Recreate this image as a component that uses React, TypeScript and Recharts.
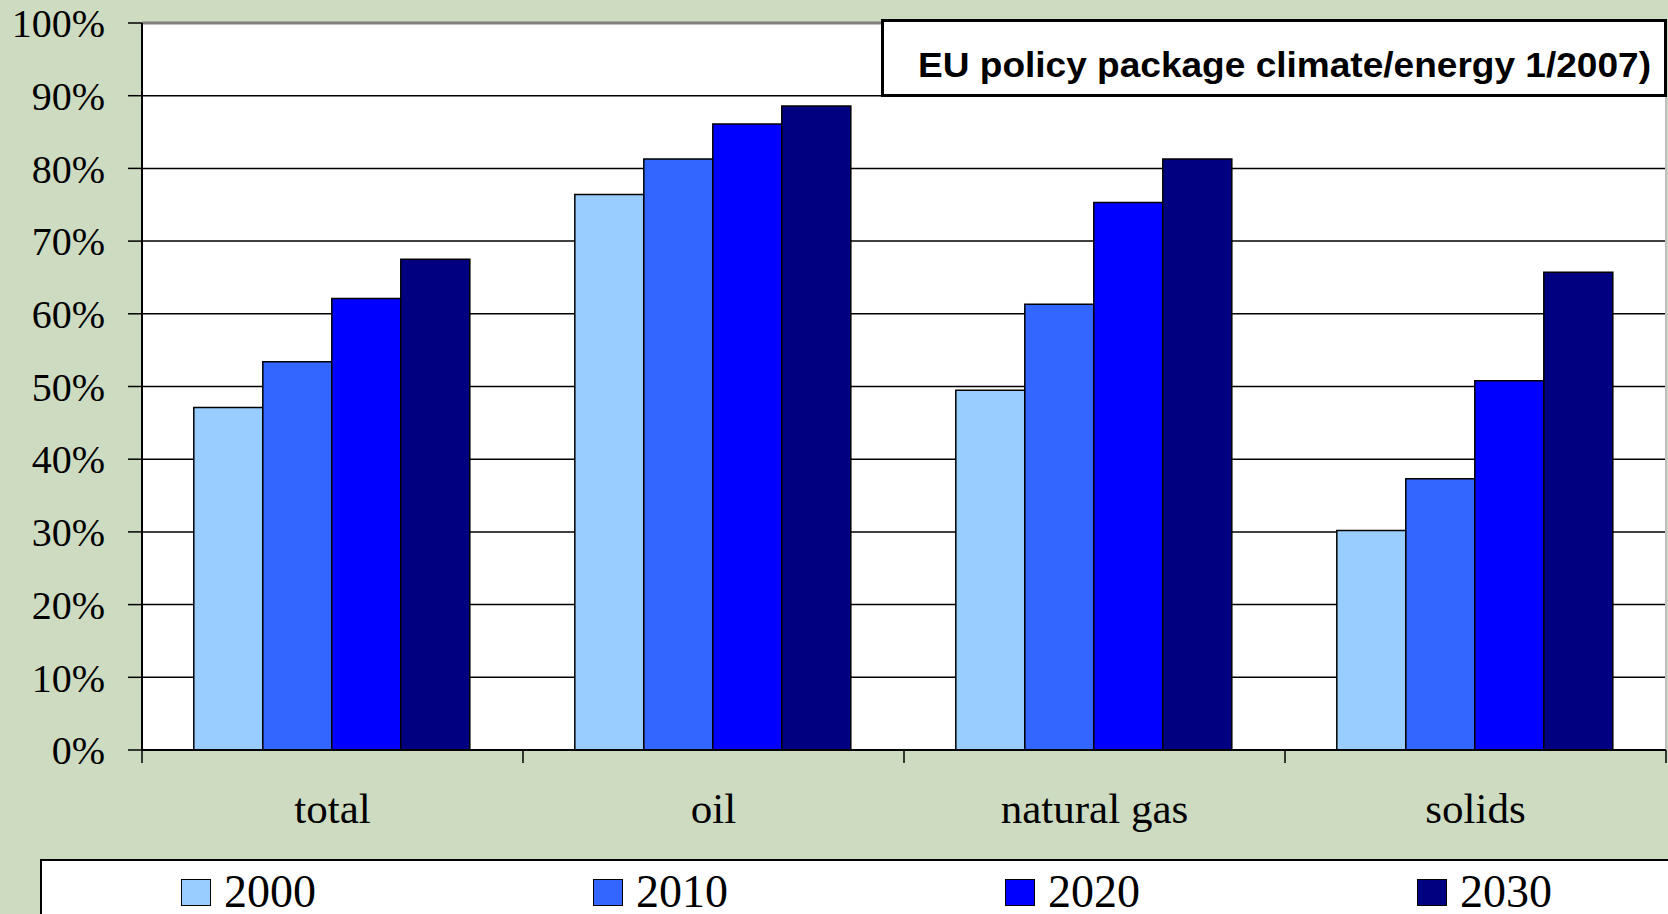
import React from 'react';
import { BarChart, Bar, XAxis, YAxis, CartesianGrid, Legend, ReferenceLine } from 'recharts';

const categories = ['total', 'oil', 'natural gas', 'solids'];
const years = ['2000', '2010', '2020', '2030'];
const values2000 = [47.1, 76.4, 49.5, 30.2];
const values2010 = [53.4, 81.3, 61.3, 37.3];
const values2020 = [62.1, 86.1, 75.3, 50.8];
const values2030 = [67.5, 88.6, 81.3, 65.7];
const yTicks = [0, 10, 20, 30, 40, 50, 60, 70, 80, 90, 100];
const colors = ['#99CCFF', '#3366FF', '#0000FF', '#000080'];
const title = 'EU policy package climate/energy 1/2007)';

const series = [values2000, values2010, values2020, values2030];
const data = categories.map((c, i) => {
  const row: any = { category: c };
  years.forEach((y, j) => {
    row['y' + y] = series[j][i];
  });
  return row;
});

const serif = '"Liberation Serif", "Times New Roman", serif';
const sans = '"Liberation Sans", Arial, sans-serif';
const CAT_MARGIN = 42;
const BOUNDARY_TICK = 13;

const CategoryTick = (props: any) => {
  const { x, y, payload, index } = props;
  const half = payload && typeof payload.offset === 'number' && payload.offset > 0 ? payload.offset : 190.5;
  const axisY = y - CAT_MARGIN;
  const last = index === categories.length - 1;
  return (
    <g>
      <line x1={x - half} x2={x - half} y1={axisY} y2={axisY + BOUNDARY_TICK} stroke="#000" strokeWidth={1.5} />
      {last && (
        <line x1={x + half} x2={x + half} y1={axisY} y2={axisY + BOUNDARY_TICK} stroke="#000" strokeWidth={1.5} />
      )}
      <text
        x={x}
        y={y}
        dy="0.71em"
        textAnchor="middle"
        fill="#000"
        fontSize={43}
        fontFamily={serif}
      >
        {payload.value}
      </text>
    </g>
  );
};

const renderLegend = (props: any) => {
  const payload = props.payload || [];
  return (
    <div
      style={{
        width: 1640,
        height: 62,
        boxSizing: 'border-box',
        border: '2px solid #000',
        background: '#fff',
        position: 'relative',
      }}
    >
      {payload.map((e: any, i: number) => (
        <div
          key={i}
          style={{
            position: 'absolute',
            left: 139 + i * 412,
            top: 8,
            display: 'flex',
            alignItems: 'center',
            height: 46,
          }}
        >
          <span
            style={{
              display: 'inline-block',
              width: 30,
              height: 27,
              background: e.color,
              border: '1.5px solid #000',
              boxSizing: 'border-box',
            }}
          />
          <span
            style={{
              marginLeft: 13,
              fontFamily: serif,
              fontSize: 46,
              lineHeight: '46px',
              color: '#000',
            }}
          >
            {e.value}
          </span>
        </div>
      ))}
    </div>
  );
};

export default function App() {
  return (
    <div
      style={{
        position: 'absolute',
        left: 0,
        top: 0,
        width: 1668,
        height: 914,
        overflow: 'hidden',
        background: '#CDDBC0',
      }}
    >
      <BarChart
        width={1668}
        height={914}
        data={data}
        margin={{ top: 23, right: 2, bottom: 100, left: 0 }}
        barCategoryGap="13.6%"
        barGap={0}
      >
        <CartesianGrid vertical={false} stroke="#000" strokeWidth={1.5} fill="#fff" fillOpacity={1} />
        <CartesianGrid
          horizontal={false}
          stroke="#c0c0c0"
          strokeWidth={2}
          verticalCoordinatesGenerator={({ offset }: any) => [offset.left + offset.width]}
        />
        <XAxis
          dataKey="category"
          height={64}
          axisLine={{ stroke: '#000', strokeWidth: 2 }}
          tickLine={false}
          tickSize={0}
          tickMargin={CAT_MARGIN}
          interval={0}
          tick={<CategoryTick />}
        />
        <YAxis
          width={142}
          domain={[0, 100]}
          ticks={yTicks}
          interval={0}
          tickFormatter={(v: number) => `${v}%`}
          axisLine={{ stroke: '#000', strokeWidth: 2 }}
          tickLine={{ stroke: '#000', strokeWidth: 1.5 }}
          tickSize={14}
          tickMargin={23}
          tick={{ fill: '#000', fontSize: 40, fontFamily: serif }}
        />
        {years.map((y, j) => (
          <Bar
            key={y}
            dataKey={'y' + y}
            name={y}
            fill={colors[j]}
            stroke="#000"
            strokeWidth={1.5}
            isAnimationActive={false}
          />
        ))}
        <ReferenceLine y={100} stroke="#808080" strokeWidth={3} />
        <Legend
          layout="horizontal"
          verticalAlign="middle"
          align="center"
          content={renderLegend}
          wrapperStyle={{ position: 'absolute', left: 40, top: 859, width: 1640, height: 62 }}
        />
      </BarChart>
      <svg
        width={1668}
        height={914}
        style={{ position: 'absolute', left: 0, top: 0, pointerEvents: 'none' }}
      >
        <rect x={882.5} y={20.5} width={783} height={75} fill="#fff" stroke="#000" strokeWidth={3} />
        <text
          x={918}
          y={77}
          fontFamily={sans}
          fontWeight="bold"
          fontSize={35}
          fill="#000"
          textLength={733}
          lengthAdjust="spacingAndGlyphs"
        >
          {title}
        </text>
      </svg>
    </div>
  );
}
